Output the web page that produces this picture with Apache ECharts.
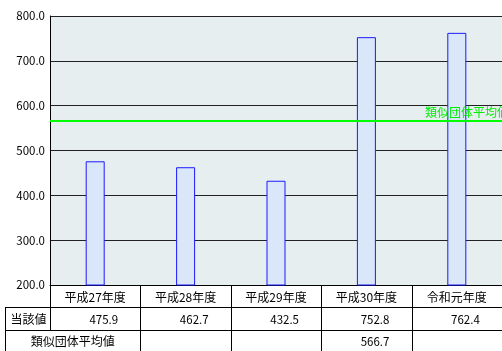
<!DOCTYPE html>
<html>
<head>
<meta charset="utf-8">
<script src="https://cdn.jsdelivr.net/npm/echarts@6/dist/echarts.min.js"></script>
<style>
  html, body { margin: 0; padding: 0; background: #ffffff; }
  #chart { width: 502px; height: 351px; }
</style>
</head>
<body>
<div id="chart"></div>
<script>
// Fiscal years, own values and the comparison-group average
const categories = ['平成27年度', '平成28年度', '平成29年度', '平成30年度', '令和元年度'];
const values = [475.9, 462.7, 432.5, 752.8, 762.4];
const groupAverage = [null, null, null, 566.7, null];
const groupAverageLine = 566.7;
const groupAverageName = '類似団体平均値';
const rowLabels = ['当該値', '類似団体平均値'];
const yMin = 200, yMax = 800, yStep = 100;

const FONT = '"Noto Sans CJK JP", "Noto Sans", sans-serif';

const chart = echarts.init(document.getElementById('chart'), null, { renderer: 'canvas' });

chart.setOption({
  animation: false,
  backgroundColor: '#ffffff',
  textStyle: { fontFamily: FONT },
  grid: {
    left: 50, right: -2, top: 16, bottom: 66,
    show: true, backgroundColor: '#e6eef0', borderWidth: 0
  },
  xAxis: {
    type: 'category',
    data: categories,
    boundaryGap: true,
    axisLine: { show: true, lineStyle: { color: '#000', width: 1 } },
    axisTick: { show: false },
    axisLabel: { color: '#000', fontSize: 12, fontFamily: FONT, margin: 6, interval: 0 },
    splitLine: { show: false }
  },
  yAxis: {
    type: 'value',
    min: yMin, max: yMax, interval: yStep,
    axisLine: { show: true, lineStyle: { color: '#000', width: 1 } },
    axisTick: { show: false },
    axisLabel: {
      color: '#000', fontSize: 11.5, fontFamily: FONT, margin: 5,
      formatter: v => v.toFixed(1)
    },
    splitLine: { show: true, lineStyle: { color: '#222', width: 1 } }
  },
  series: [{
    type: 'bar',
    data: values,
    barWidth: 19,
    itemStyle: { color: '#d9e7f8', borderColor: '#1a1aff', borderWidth: 1 },
    markLine: {
      silent: true,
      symbol: ['none', 'none'],
      lineStyle: { color: '#00ff00', width: 2, type: 'solid' },
      label: {
        show: true,
        position: 'insideEndTop',
        formatter: groupAverageName,
        color: '#00ee00',
        fontSize: 12,
        fontFamily: FONT,
        distance: [-7, 2]
      },
      data: [{ yAxis: groupAverageLine }]
    }
  }]
});

// Data table under the plot
function buildTable() {
  const centers = categories.map(c => chart.convertToPixel({ xAxisIndex: 0 }, c));
  const band = centers[1] - centers[0];
  const axisY = Math.round(chart.convertToPixel({ yAxisIndex: 0 }, yMin));
  const plotLeft = Math.round(centers[0] - band / 2);
  const plotRight = centers[centers.length - 1] + band / 2;
  const tableLeft = 5;
  const row1 = axisY + 22;
  const row2 = row1 + 23;
  const bottom = 351;
  const lineStyle = { stroke: '#000', lineWidth: 1 };
  const els = [];
  const hline = (x1, x2, y) => els.push({ type: 'line', shape: { x1, y1: y + 0.5, x2, y2: y + 0.5 }, style: lineStyle, silent: true });
  const vline = (x, y1, y2) => els.push({ type: 'line', shape: { x1: Math.round(x) + 0.5, y1, x2: Math.round(x) + 0.5, y2 }, style: lineStyle, silent: true });
  const text = (str, x, y, align, size) => els.push({
    type: 'text', silent: true,
    style: { text: str, x, y, align, verticalAlign: 'middle', fill: '#000', font: size + 'px ' + FONT }
  });

  hline(tableLeft, plotRight, row1);
  hline(tableLeft, plotRight, row2);
  vline(tableLeft, row1, bottom);
  vline(plotLeft, axisY, row2);
  for (let i = 1; i < centers.length; i++) vline(centers[i] - band / 2, axisY, bottom);

  text(rowLabels[0], (tableLeft + plotLeft) / 2 + 1, (row1 + row2) / 2 + 1, 'center', 12);
  text(rowLabels[1], (tableLeft + centers[0] + band / 2) / 2, (row2 + bottom) / 2 + 1, 'center', 12);

  values.forEach((v, i) => {
    text(v.toFixed(1), centers[i] + 23, (row1 + row2) / 2 + 1, 'right', 11.5);
  });
  groupAverage.forEach((v, i) => {
    if (v != null) text(v.toFixed(1), centers[i] + 23, (row2 + bottom) / 2 + 1, 'right', 11.5);
  });

  chart.setOption({ graphic: { elements: els } });
}
buildTable();
</script>
</body>
</html>
